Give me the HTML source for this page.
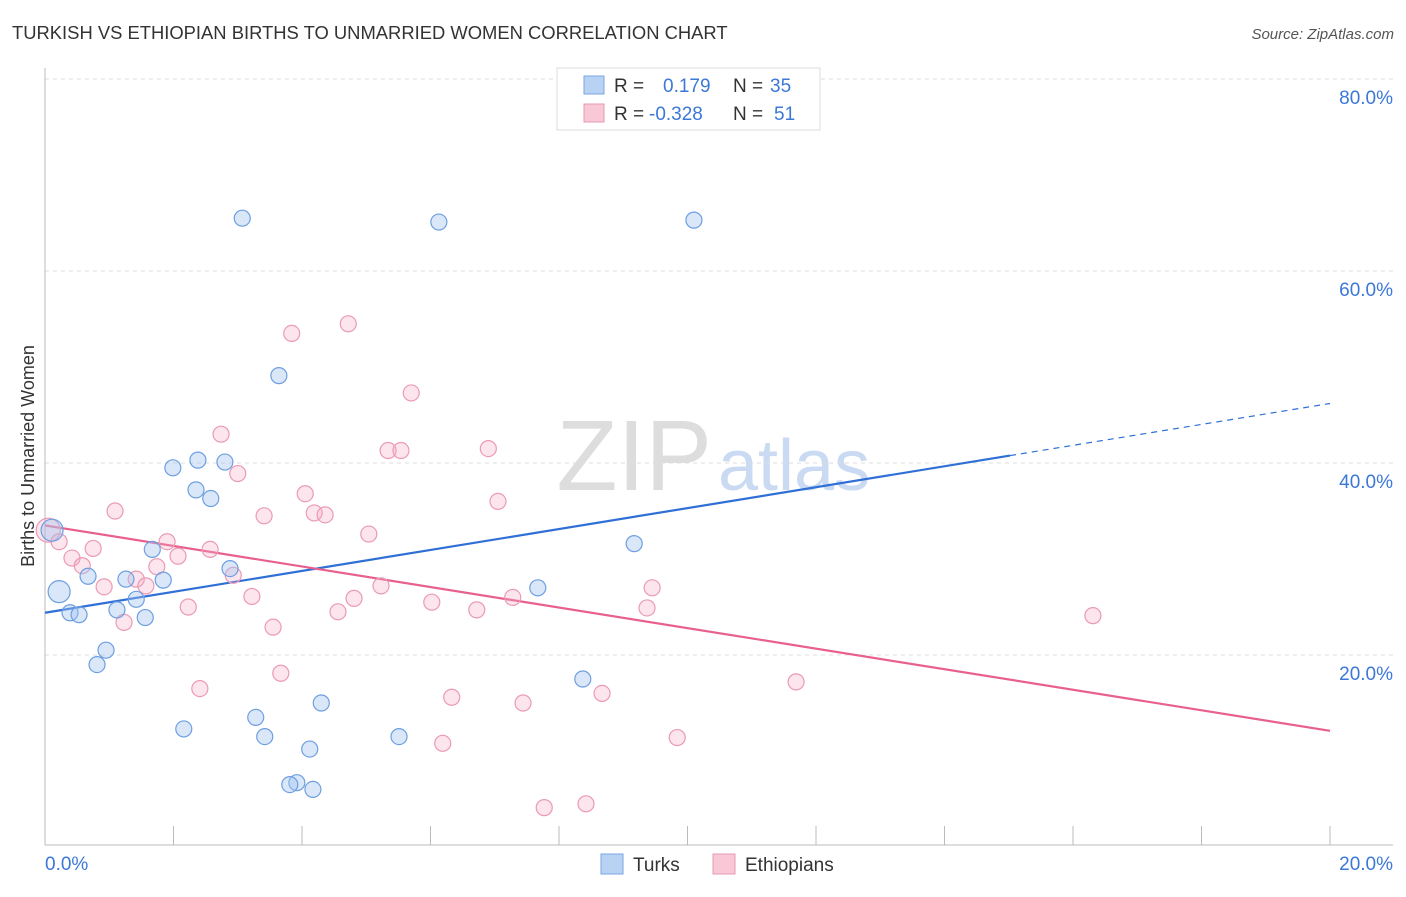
<!DOCTYPE html>
<html><head><meta charset="utf-8"><style>
body{margin:0;background:#fff;font-family:"Liberation Sans",sans-serif}
svg text{font-family:"Liberation Sans",sans-serif}
</style></head><body>
<svg width="1406" height="892" xmlns="http://www.w3.org/2000/svg">
<text x="12" y="39" font-size="18.4" fill="#333">TURKISH VS ETHIOPIAN BIRTHS TO UNMARRIED WOMEN CORRELATION CHART</text>
<text x="1394" y="39" font-size="15" fill="#555" font-style="italic" text-anchor="end">Source: ZipAtlas.com</text>
<text x="712" y="490" font-size="100" fill="#ddd" text-anchor="end" font-family="Liberation Serif">ZIP</text>
<text x="718" y="490" font-size="72" fill="#c9daf2">atlas</text>
<g id="grid"></g><g id="axes"></g><g id="lines"></g><g id="pts"></g>
<text transform="translate(34,456) rotate(-90)" font-size="18" fill="#333" text-anchor="middle">Births to Unmarried Women</text>
<g>
<rect x="557" y="68" width="263" height="62" fill="#fff" stroke="#ddd"/>
<rect x="584" y="76" width="20" height="18" fill="#b8d2f4" stroke="#7aa6e0"/>
<rect x="584" y="104" width="20" height="18" fill="#f8c8d6" stroke="#e897b0"/>
<text x="614" y="92" font-size="19" fill="#333">R = <tspan x="663" fill="#3b78d8">0.179</tspan><tspan x="733" fill="#333">N = </tspan><tspan x="770" fill="#3b78d8">35</tspan></text>
<text x="614" y="120" font-size="19" fill="#333">R = <tspan x="649" fill="#3b78d8">-0.328</tspan><tspan x="733" fill="#333">N = </tspan><tspan x="774" fill="#3b78d8">51</tspan></text>
</g>
<g>
<rect x="601" y="854" width="22" height="20" fill="#b8d2f4" stroke="#7aa6e0"/>
<text x="633" y="871" font-size="19" fill="#333">Turks</text>
<rect x="713" y="854" width="22" height="20" fill="#f8c8d6" stroke="#e897b0"/>
<text x="745" y="871" font-size="19" fill="#333">Ethiopians</text>
</g>
</svg>
<script>
const yTicks=[20,40,60,80];
const xTickLabels=["0.0%","20.0%"];
const turksX=[3.07,6.13,10.10,3.64,1.99,2.38,2.80,2.35,2.58,1.67,9.17,0.11,0.67,1.26,1.84,1.42,2.88,7.67,0.22,0.39,0.53,1.12,1.56,0.95,0.81,8.37,4.30,3.28,2.16,3.42,5.51,4.12,3.92,3.81,4.17];
const turksY=[65.5,65.1,65.3,49.1,39.5,40.3,40.1,37.2,36.3,31.0,31.6,33.0,28.2,27.9,27.8,25.8,29.0,27.0,26.6,24.4,24.2,24.7,23.9,20.5,19.0,17.5,15.0,13.5,12.3,11.5,11.5,10.2,6.7,6.5,6.0];
const ethX=[4.72,3.84,5.70,2.74,5.34,5.54,6.90,3.00,4.05,7.05,1.09,3.41,4.19,4.36,5.04,0.05,0.22,1.90,0.75,2.57,0.42,2.07,0.58,1.74,1.42,2.93,0.92,1.57,5.23,9.45,3.22,4.81,6.02,7.28,2.23,4.56,6.72,9.37,16.31,1.23,3.55,3.67,11.69,2.41,8.67,6.33,7.44,9.84,6.19,7.77,8.42];
const ethY=[54.5,53.5,47.3,43.0,41.3,41.3,41.5,38.9,36.8,36.0,35.0,34.5,34.8,34.6,32.6,33.0,31.8,31.8,31.1,31.0,30.1,30.3,29.3,29.2,27.9,28.3,27.1,27.2,27.2,27.0,26.1,25.9,25.5,26.0,25.0,24.5,24.7,24.9,24.1,23.4,22.9,18.1,17.2,16.5,16.0,15.6,15.0,11.4,10.8,4.1,4.5];
const turksTrend=[24.4,46.2];
const ethTrend=[33.5,12.1];
const bigTurks=[11,18], bigEth=[15];
const NS="http://www.w3.org/2000/svg";
const X=v=>45+v/20*1285, Y=v=>847-v*9.6;
function mk(t,a,p){const e=document.createElementNS(NS,t);for(const k in a)e.setAttribute(k,a[k]);document.getElementById(p).appendChild(e);return e;}
yTicks.forEach(t=>{
 const l=mk('line',{x1:45,x2:1393,y1:Y(t),y2:Y(t),stroke:'#ddd','stroke-dasharray':'4,4'},'grid');
 
 
 const tx=mk('text',{x:1393,y:Y(t)+25,'font-size':19,fill:'#3b78d8','text-anchor':'end'},'axes');
 tx.textContent=t.toFixed(1)+'%';
 
 
});
const ax=mk('line',{x1:45,x2:1393,y1:845,y2:845,stroke:'#bbb'},'axes');


const ay=mk('line',{x1:45,x2:45,y1:68,y2:845,stroke:'#bbb'},'axes');


for(let i=0;i<=10;i++){const t=mk('line',{x1:X(i*2),x2:X(i*2),y1:826,y2:845,stroke:'#bbb'},'axes');
 
 }
[[0,'start',45],[1,'end',1393]].forEach(([i,a,x])=>{const t=mk('text',{x:x,y:870,'font-size':19,fill:'#3b78d8','text-anchor':a},'axes');t.textContent=xTickLabels[i];
 
 });
const bx=15.02, by=turksTrend[0]+(turksTrend[1]-turksTrend[0])*bx/20;
const l1=mk('line',{x1:X(0),y1:Y(turksTrend[0]),x2:X(bx),y2:Y(by),stroke:'#2f6fd6','stroke-width':2.2},'lines');


const l1b=mk('line',{x1:X(bx),y1:Y(by),x2:X(20),y2:Y(turksTrend[1]),stroke:'#2f6fd6','stroke-width':1.2,'stroke-dasharray':'6,5'},'lines');


const l2=mk('line',{x1:X(0),y1:Y(ethTrend[0]),x2:X(20),y2:Y(ethTrend[1]),stroke:'#e8608c','stroke-width':2.2},'lines');


ethX.forEach((x,i)=>{const c=mk('circle',{cx:X(x),cy:Y(ethY[i]),r:bigEth.includes(i)?12:8,fill:'rgba(244,170,195,0.3)',stroke:'#eb9ab4','stroke-width':1.2},'pts');
 
 });
turksX.forEach((x,i)=>{const c=mk('circle',{cx:X(x),cy:Y(turksY[i]),r:bigTurks.includes(i)?11:8,fill:'rgba(160,195,240,0.4)',stroke:'#6e9fe0','stroke-width':1.2},'pts');
 
 });
</script>
</body></html>
